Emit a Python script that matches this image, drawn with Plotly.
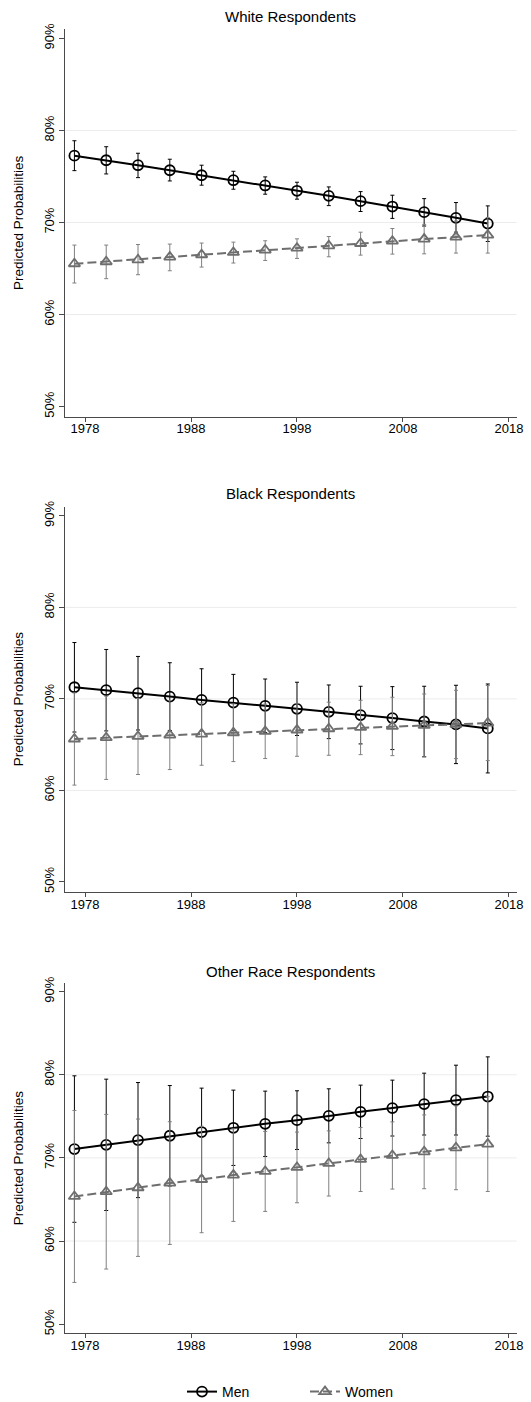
import plotly.graph_objects as go

# Survey years at which predicted probabilities were computed
years = [1977, 1980, 1983, 1986, 1989, 1992, 1995, 1998, 2001, 2004, 2007, 2010, 2013, 2016]
x_ticks = [1978, 1988, 1998, 2008, 2018]
y_ticks = [50, 60, 70, 80, 90]
y_tick_labels = ["50%", "60%", "70%", "80%", "90%"]

panel_titles = ["White Respondents", "Black Respondents", "Other Race Respondents"]

# White respondents (percent)
white_men = [77.27, 76.77, 76.23, 75.68, 75.14, 74.60, 74.03, 73.45, 72.90, 72.32, 71.74, 71.13, 70.51, 69.89]
white_men_lo = [75.64, 75.28, 74.88, 74.52, 74.06, 73.62, 73.08, 72.54, 71.84, 71.20, 70.45, 69.62, 68.96, 67.94]
white_men_hi = [78.89, 78.24, 77.53, 76.88, 76.23, 75.57, 74.96, 74.38, 73.87, 73.36, 72.97, 72.60, 72.17, 71.81]
white_women = [65.52, 65.74, 65.95, 66.25, 66.50, 66.75, 67.01, 67.22, 67.47, 67.72, 67.98, 68.20, 68.42, 68.63]
white_women_lo = [63.43, 63.90, 64.33, 64.76, 65.16, 65.60, 65.88, 66.10, 66.28, 66.46, 66.57, 66.60, 66.68, 66.68]
white_women_hi = [67.55, 67.55, 67.61, 67.66, 67.77, 67.87, 68.02, 68.23, 68.48, 68.95, 69.35, 69.80, 70.16, 70.55]

# Black respondents (percent)
black_men = [71.27, 70.95, 70.62, 70.25, 69.89, 69.60, 69.24, 68.91, 68.59, 68.23, 67.90, 67.53, 67.21, 66.77]
black_men_lo = [66.38, 66.50, 66.60, 66.55, 66.49, 66.52, 66.31, 66.00, 65.66, 65.08, 64.46, 63.68, 62.93, 61.91]
black_men_hi = [76.16, 75.40, 74.64, 73.95, 73.29, 72.68, 72.17, 71.82, 71.52, 71.38, 71.34, 71.38, 71.49, 71.63]
black_women = [65.62, 65.76, 65.90, 66.05, 66.16, 66.30, 66.45, 66.60, 66.74, 66.88, 66.99, 67.10, 67.21, 67.36]
black_women_lo = [60.58, 61.20, 61.74, 62.28, 62.75, 63.15, 63.48, 63.73, 63.84, 63.91, 63.80, 63.66, 63.48, 63.26]
black_women_hi = [70.66, 70.30, 70.06, 69.82, 69.57, 69.45, 69.42, 69.47, 69.64, 69.85, 70.18, 70.54, 70.94, 71.46]

# Other race respondents (percent)
other_men = [71.06, 71.57, 72.14, 72.66, 73.11, 73.62, 74.10, 74.54, 75.06, 75.54, 75.99, 76.47, 76.95, 77.38]
other_men_lo = [62.25, 63.67, 65.22, 66.62, 67.83, 69.09, 70.17, 71.01, 71.81, 72.33, 72.63, 72.75, 72.75, 72.61]
other_men_hi = [79.87, 79.47, 79.06, 78.70, 78.39, 78.15, 78.03, 78.07, 78.31, 78.75, 79.35, 80.19, 81.15, 82.15]
other_women = [65.36, 65.93, 66.41, 66.97, 67.40, 67.93, 68.37, 68.85, 69.33, 69.81, 70.29, 70.73, 71.21, 71.66]
other_women_lo = [55.02, 56.63, 58.15, 59.59, 61.00, 62.36, 63.56, 64.60, 65.41, 65.96, 66.25, 66.29, 66.17, 65.96]
other_women_hi = [75.70, 75.23, 74.67, 74.35, 73.80, 73.50, 73.18, 73.10, 73.25, 73.66, 74.33, 75.17, 76.25, 77.36]

panels = [
    (white_men, white_men_lo, white_men_hi, white_women, white_women_lo, white_women_hi),
    (black_men, black_men_lo, black_men_hi, black_women, black_women_lo, black_women_hi),
    (other_men, other_men_lo, other_men_hi, other_women, other_women_lo, other_women_hi),
]

W, H = 531, 1402
FONT = "Liberation Sans, Arial, sans-serif"
AXIS_COLOR = "#4a4a4a"
GRID_COLOR = "#ececec"
MEN_COLOR = "#000000"
WOMEN_COLOR = "#6e6e6e"
WOMEN_BAR = "#808080"

# Plot areas in pixels: (top, bottom)
plot_rows = [(29.3, 416.7), (506.7, 892.0), (983.3, 1333.3)]
title_rows = [17, 493, 971]
x_left, x_right = 65.3, 516.7


def err(vals, lo, hi):
    return dict(
        type="data", symmetric=False,
        array=[h - v for v, h in zip(vals, hi)],
        arrayminus=[v - l for v, l in zip(vals, lo)],
        width=2, thickness=1,
    )


fig = go.Figure()
annotations = []
shapes = []

fig.update_layout(
    width=W, height=H,
    margin=dict(l=0, r=0, t=0, b=0, autoexpand=False),
    paper_bgcolor="white", plot_bgcolor="white",
    font=dict(family=FONT, size=13, color="#000000"),
    showlegend=True,
    legend=dict(
        orientation="h", x=305 / W, xanchor="center", y=-6 / H, yanchor="bottom",
        font=dict(size=14, family=FONT), traceorder="normal",
        entrywidth=78, entrywidthmode="pixels",
        bgcolor="rgba(0,0,0,0)",
    ),
)

for i, (men, men_lo, men_hi, women, women_lo, women_hi) in enumerate(panels):
    k = "" if i == 0 else str(i + 1)
    xa, ya = "x" + k, "y" + k
    top, bottom = plot_rows[i]

    fig.add_trace(go.Scatter(
        x=years, y=men, xaxis=xa, yaxis=ya, name="Men", legendgroup="men",
        showlegend=(i == 2), mode="lines+markers",
        line=dict(color=MEN_COLOR, width=2),
        marker=dict(symbol="circle-open", size=10, color=MEN_COLOR, line=dict(width=1.8)),
        error_y=dict(err(men, men_lo, men_hi), color=MEN_COLOR),
    ))
    fig.add_trace(go.Scatter(
        x=years, y=women, xaxis=xa, yaxis=ya, name="Women", legendgroup="women",
        showlegend=(i == 2), mode="lines+markers",
        line=dict(color=WOMEN_COLOR, width=2, dash="9px,4px"),
        marker=dict(symbol="triangle-up-open", size=10, color=WOMEN_COLOR, line=dict(width=1.8)),
        error_y=dict(err(women, women_lo, women_hi), color=WOMEN_BAR),
    ))

    fig.update_layout({
        "xaxis" + k: dict(
            domain=[x_left / W, x_right / W], anchor=ya, automargin=False,
            range=[1976.14, 2018.73], tickmode="array", tickvals=x_ticks,
            showgrid=False, zeroline=False,
            showline=True, linecolor=AXIS_COLOR, linewidth=1,
            ticks="outside", ticklen=4, tickcolor=AXIS_COLOR,
            ticklabelstandoff=-4,
            tickfont=dict(size=13, family=FONT, color="#000000"),
        ),
        "yaxis" + k: dict(
            domain=[1 - bottom / H, 1 - top / H], anchor=xa, automargin=False,
            range=[48.9, 91.0], tickmode="array",
            tickvals=y_ticks, ticktext=y_tick_labels,
            showgrid=False, zeroline=False,
            showline=True, linecolor=AXIS_COLOR, linewidth=1,
            ticks="outside", ticklen=5, tickcolor=AXIS_COLOR,
            tickangle=-90,
            tickfont=dict(size=13, family=FONT, color="#000000"),
        ),
    })

    # light horizontal grid at the interior ticks
    for g in y_ticks[1:-1]:
        shapes.append(dict(
            type="line", xref=xa + " domain", yref=ya, x0=0, x1=1, y0=g, y1=g,
            line=dict(color=GRID_COLOR, width=1), layer="below",
        ))

    annotations.append(dict(
        text=panel_titles[i], xref="paper", yref="paper",
        x=(x_left + x_right) / 2 / W, y=1 - title_rows[i] / H,
        xanchor="center", yanchor="middle", showarrow=False,
        font=dict(size=15, family=FONT, color="#000000"),
    ))
    annotations.append(dict(
        text="Predicted Probabilities", xref="paper", yref="paper",
        x=18 / W, y=1 - (top + bottom) / 2 / H, textangle=-90,
        xanchor="center", yanchor="middle", showarrow=False,
        font=dict(size=13.5, family=FONT, color="#000000"),
    ))

fig.update_layout(annotations=annotations, shapes=shapes)
fig.update_yaxes(tickangle=-90)

fig.write_html("out.html")
